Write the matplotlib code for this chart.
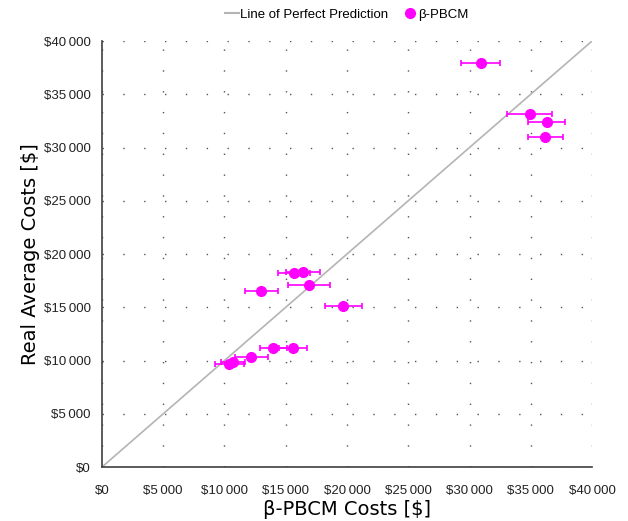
import matplotlib.pyplot as plt
from matplotlib.lines import Line2D
from matplotlib.ticker import FuncFormatter, MultipleLocator

# Data (values in $)
pred_costs = [30900, 34900, 36300, 36200, 15700, 16400, 16900, 13000,
              19700, 14000, 15600, 12200, 10700, 10400]
real_costs = [37900, 33100, 32400, 31000, 18200, 18300, 17100, 16500,
              15100, 11200, 11200, 10300, 9900, 9700]
pred_err = [1600, 1800, 1500, 1400, 1300, 1400, 1700, 1350,
            1500, 1100, 1150, 1350, 1000, 1200]

perfect = [0, 40000]

fig = plt.figure(figsize=(6.28, 5.21), dpi=100)
ax = fig.add_axes([0.1624, 0.1036, 0.7803, 0.8177])

ax.plot(perfect, perfect, color='#b4b4b4', linewidth=1.2, zorder=2)
ax.errorbar(pred_costs, real_costs, xerr=pred_err, fmt='o',
            color='#ff00ff', ecolor='#ff00ff', markersize=7,
            elinewidth=1.2, capsize=2, capthick=1.2, zorder=3)

ax.set_xlim(0, 40000)
ax.set_ylim(0, 40000)
ax.xaxis.set_major_locator(MultipleLocator(5000))
ax.yaxis.set_major_locator(MultipleLocator(5000))


def money(v, pos):
    v = int(round(v))
    if v == 0:
        return '$0'
    return '$' + f'{v:,}'.replace(',', '\u2009')


ax.xaxis.set_major_formatter(FuncFormatter(money))
ax.yaxis.set_major_formatter(FuncFormatter(money))

ax.grid(True, color='#555555', linewidth=1.0, linestyle=(0, (1, 14)))
ax.set_axisbelow(True)

for s in ['top', 'right']:
    ax.spines[s].set_visible(False)
for s in ['left', 'bottom']:
    ax.spines[s].set_color('#404040')
    ax.spines[s].set_linewidth(1.2)

ax.tick_params(length=0, labelsize=9.5, colors='#222222')
ax.tick_params(axis='x', pad=13)
ax.tick_params(axis='y', pad=8)
for lab in ax.get_xticklabels() + ax.get_yticklabels():
    lab.set_family(['Liberation Sans', 'DejaVu Sans'])

ax.set_xlabel('β-PBCM Costs [$]', fontsize=14, family='DejaVu Sans',
              labelpad=2)
ax.set_ylabel('Real Average Costs [$]', fontsize=14, family='DejaVu Sans',
              labelpad=3)

handles = [
    Line2D([], [], color='#b4b4b4', linewidth=1.5),
    Line2D([], [], color='#ff00ff', marker='o', linestyle='none',
           markersize=7),
]
labels = ['Line of Perfect Prediction', 'β-PBCM']
ax.legend(handles, labels, loc='lower center', bbox_to_anchor=(0.5, 1.02),
          ncol=2, frameon=False, handlelength=1.0, handletextpad=0.1,
          columnspacing=1.2,
          prop={'family': ['Liberation Sans', 'DejaVu Sans'], 'size': 9.5})

fig.savefig('out.png', dpi=100)
